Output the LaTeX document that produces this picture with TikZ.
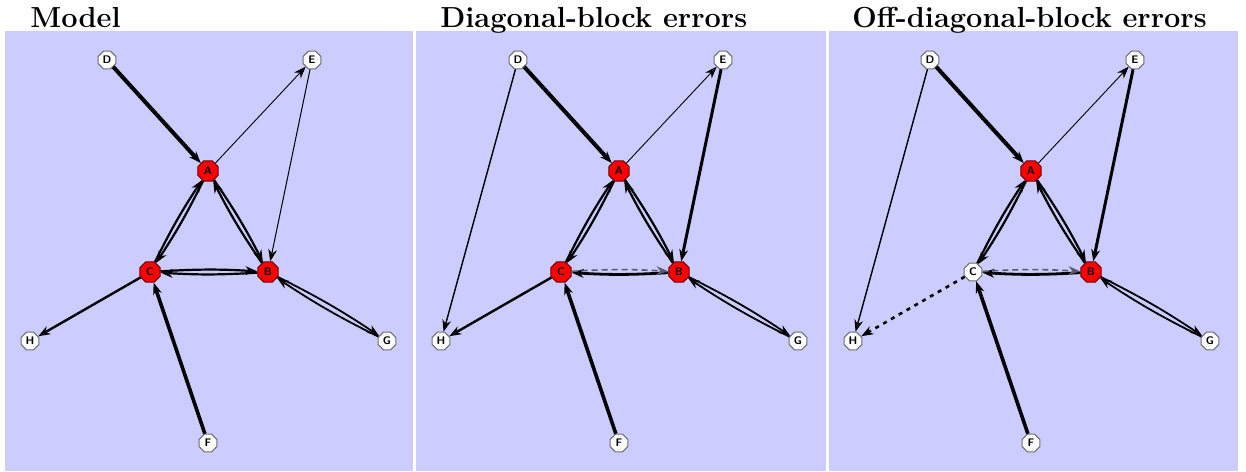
\documentclass[tikz,border=0pt]{standalone}
\usepackage{xcolor}
\usepackage{tikz}
\usetikzlibrary{shapes.geometric, arrows.meta}
\definecolor{panelblue}{RGB}{204,204,255}
\definecolor{hubred}{RGB}{255,0,0}
\definecolor{hubedge}{RGB}{110,0,0}
\definecolor{leafedge}{RGB}{110,110,110}
\definecolor{errgray}{RGB}{90,90,110}
\tikzset{
  hub/.style={regular polygon, regular polygon sides=8, draw=hubedge, fill=hubred,
    minimum size=11pt, inner sep=0pt, line width=0.5pt,
    font=\fontsize{5.5}{6}\selectfont\bfseries\sffamily},
  leaf/.style={regular polygon, regular polygon sides=8, draw=leafedge, fill=white,
    minimum size=9.5pt, inner sep=0pt, line width=0.5pt,
    font=\fontsize{5.5}{6}\selectfont\bfseries\sffamily},
  link/.style={-{Stealth[length=6pt, width=4.4pt]}, color=black},
  pair/.style={link, line width=1.1pt, bend left=3.5},
  panel/.style={fill=panelblue, draw=none},
  title/.style={anchor=base west, inner sep=0pt, font=\fontsize{14.5}{16}\selectfont\bfseries}
}

\begin{document}
\begin{tikzpicture}[x=0.5pt, y=-0.5pt]
  \useasboundingbox (0,0) rectangle (1246,471);

  % Panels
  \fill[panel] (5,31) rectangle (413,471);
  \fill[panel] (416,31) rectangle (826,471);
  \fill[panel] (829,31) rectangle (1238,471);

  % Titles
  \node[title] (t1) at (30,27) {Model};
  \node[title] (t2) at (440,27) {Diagonal-block errors};
  \node[title] (t3) at (852,27) {Off-diagonal-block errors};

  % Model
  \begin{scope}
    \node[leaf] (d1) at (107,60) {D};
    \node[leaf] (e1) at (312,60) {E};
    \node[hub] (a1) at (208,171) {A};
    \node[hub] (c1) at (150,272) {C};
    \node[hub] (b1) at (268,272) {B};
    \node[leaf] (h1) at (30,341) {H};
    \node[leaf] (g1) at (387,341) {G};
    \node[leaf] (f1) at (208,443) {F};

    \draw[link, line width=2pt] (d1) -- (a1);
    \draw[link, line width=0.45pt] (a1) -- (e1);
    \draw[link, line width=0.5pt] (e1) -- (b1);
    \draw[pair] (a1) to (c1);
    \draw[pair] (c1) to (a1);
    \draw[pair] (a1) to (b1);
    \draw[pair] (b1) to (a1);
    \draw[pair] (b1) to (c1);
    \draw[pair] (c1) to (b1);
    \draw[link, line width=1.2pt] (c1) -- (h1);
    \draw[link, line width=1.8pt] (f1) -- (c1);
    \draw[pair, line width=0.9pt] (b1) to (g1);
    \draw[pair, line width=0.9pt] (g1) to (b1);
  \end{scope}

  % Diagonal-block errors
  \begin{scope}[shift={(411,0)}]
    \node[leaf] (d2) at (107,60) {D};
    \node[leaf] (e2) at (312,60) {E};
    \node[hub] (a2) at (208,171) {A};
    \node[hub] (c2) at (150,272) {C};
    \node[hub] (b2) at (268,272) {B};
    \node[leaf] (h2) at (30,341) {H};
    \node[leaf] (g2) at (387,341) {G};
    \node[leaf] (f2) at (208,443) {F};

    \draw[link, line width=2pt] (d2) -- (a2);
    \draw[link, line width=0.45pt] (a2) -- (e2);
    \draw[link, line width=1.5pt] (e2) -- (b2);
    \draw[link, line width=0.7pt] (d2) -- (h2);
    \draw[pair] (a2) to (c2);
    \draw[pair] (c2) to (a2);
    \draw[pair] (a2) to (b2);
    \draw[pair] (b2) to (a2);
    \draw[pair, line width=1.4pt] (b2) to (c2);
    \draw[pair, line width=0.8pt, errgray, dash pattern=on 3pt off 2pt] (c2) to (b2);
    \draw[link, line width=1.2pt] (c2) -- (h2);
    \draw[link, line width=1.8pt] (f2) -- (c2);
    \draw[pair, line width=0.9pt] (b2) to (g2);
    \draw[pair, line width=0.9pt] (g2) to (b2);
  \end{scope}

  % Off-diagonal-block errors
  \begin{scope}[shift={(823,0)}]
    \node[leaf] (d3) at (107,60) {D};
    \node[leaf] (e3) at (312,60) {E};
    \node[hub] (a3) at (208,171) {A};
    \node[leaf] (c3) at (150,272) {C};
    \node[hub] (b3) at (268,272) {B};
    \node[leaf] (h3) at (30,341) {H};
    \node[leaf] (g3) at (387,341) {G};
    \node[leaf] (f3) at (208,443) {F};

    \draw[link, line width=2pt] (d3) -- (a3);
    \draw[link, line width=0.45pt] (a3) -- (e3);
    \draw[link, line width=1.5pt] (e3) -- (b3);
    \draw[link, line width=0.7pt] (d3) -- (h3);
    \draw[pair] (a3) to (c3);
    \draw[pair] (c3) to (a3);
    \draw[pair] (a3) to (b3);
    \draw[pair] (b3) to (a3);
    \draw[pair, line width=1.4pt] (b3) to (c3);
    \draw[pair, line width=0.8pt, errgray, dash pattern=on 3pt off 2pt] (c3) to (b3);
    \draw[link, line width=1.3pt, dash pattern=on 2pt off 2.5pt] (c3) -- (h3);
    \draw[link, line width=1.8pt] (f3) -- (c3);
    \draw[pair, line width=0.9pt] (b3) to (g3);
    \draw[pair, line width=0.9pt] (g3) to (b3);
  \end{scope}
\end{tikzpicture}
\end{document}
